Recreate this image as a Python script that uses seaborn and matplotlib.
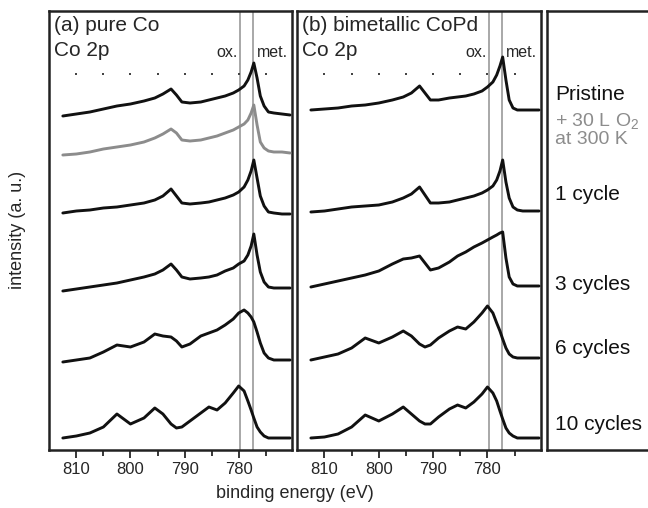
import numpy as np
import pandas as pd
import matplotlib
matplotlib.use("Agg")
import matplotlib.pyplot as plt
import seaborn as sns

# DATA (binding energy grid in eV, stacked intensities in a.u.)

energy = [812.5, 810, 807.5, 805, 802.5, 800, 797.5, 795.5, 794, 792.5,
          791.5, 790.5, 789, 787, 785.5, 784, 782.5, 781, 780, 779,
          778.3, 777.7, 777.2, 776.6, 776, 775.3, 774.5, 773.5, 772, 770.5]

# panel (a) pure Co
a_pristine = [334, 336, 338, 341, 344, 346, 349, 352, 356, 361, 355, 348, 347, 348, 350,
              352, 354, 357, 360, 364, 370, 378, 387, 372, 354, 344, 338, 337, 336, 335]
a_o2 = [295, 296, 298, 301, 303, 305, 308, 312, 316, 321, 317, 310, 309, 310, 312,
        314, 317, 320, 323, 326, 330, 337, 345, 325, 308, 302, 299, 298, 298, 297]
a_1cycle = [237, 239, 240, 242, 243, 245, 247, 250, 254, 261, 254, 247, 246, 247, 248,
            250, 252, 255, 258, 263, 270, 279, 290, 272, 254, 244, 238, 237, 236, 236]
a_3cycles = [159, 161, 163, 165, 167, 170, 173, 176, 180, 186, 180, 173, 171, 172, 173,
             175, 179, 182, 186, 189, 195, 204, 216, 195, 178, 168, 163, 162, 162, 162]
a_6cycles = [88, 90, 92, 98, 105, 103, 108, 116, 114, 113, 109, 103, 106, 114, 117,
             120, 125, 131, 137, 140, 137, 133, 128, 118, 107, 97, 92, 90, 90, 90]
a_10cycles = [12, 14, 17, 23, 36, 26, 32, 42, 36, 26, 22, 23, 29, 37, 43,
              40, 47, 57, 64, 59, 49, 40, 32, 23, 18, 14, 12, 12, 12, 12]

# panel (b) bimetallic CoPd
b_pristine = [340, 341, 342, 344, 345, 347, 350, 353, 357, 364, 357, 350, 350, 352, 353,
              354, 356, 359, 363, 368, 375, 384, 393, 370, 350, 342, 340, 340, 340, 340]
b_1cycle = [238, 239, 241, 243, 244, 245, 248, 252, 256, 263, 255, 247, 247, 248, 250,
            252, 254, 257, 260, 264, 270, 279, 290, 268, 252, 243, 240, 239, 239, 239]
b_3cycles = [163, 166, 169, 172, 175, 179, 186, 191, 192, 194, 187, 180, 182, 188, 194,
             198, 203, 207, 210, 213, 215, 217, 218, 192, 173, 166, 164, 164, 164, 164]
b_6cycles = [90, 93, 96, 102, 112, 107, 113, 119, 114, 106, 103, 105, 112, 119, 123,
             121, 128, 137, 144, 137, 127, 119, 111, 102, 96, 93, 92, 92, 92, 92]
b_10cycles = [12, 13, 16, 23, 35, 29, 36, 43, 36, 29, 26, 26, 33, 41, 45,
              42, 48, 56, 63, 57, 49, 39, 31, 22, 17, 14, 12, 12, 12, 12]

ox_energy = 779.7
met_energy = 777.3
dot_energies = [810, 805, 800, 795, 790, 785, 780, 775]

labels = ["Pristine", "+ 30 L $\\mathregular{O_2}$", "at 300 K", "1 cycle",
          "3 cycles", "6 cycles", "10 cycles"]
label_y = [355, 329, 310, 255, 165, 102, 25]
label_colors = ["#111111", "#8c8c8c", "#8c8c8c", "#111111", "#111111", "#111111", "#111111"]

# STYLE

sns.set_style("white")
plt.rcParams['font.family'] = ['Liberation Sans', 'DejaVu Sans']

fig = plt.figure(figsize=(6.48, 5.08), dpi=100)
bottom = 58 / 508
height = 439 / 508
ax_a = fig.add_axes([49.3 / 648, bottom, 242.4 / 648, height])
ax_b = fig.add_axes([297.3 / 648, bottom, 243.4 / 648, height])
ax_c = fig.add_axes([547 / 648, bottom, 0.2, height])

panels = [
    (ax_a, "(a) pure Co", [a_pristine, a_o2, a_1cycle, a_3cycles, a_6cycles, a_10cycles],
     ["#111111", "#8c8c8c", "#111111", "#111111", "#111111", "#111111"]),
    (ax_b, "(b) bimetallic CoPd", [b_pristine, b_1cycle, b_3cycles, b_6cycles, b_10cycles],
     ["#111111"] * 5),
]

for ax, title, traces, colors in panels:
    ax.axvline(ox_energy, color="#9a9a9a", lw=1.2, zorder=1)
    ax.axvline(met_energy, color="#9a9a9a", lw=1.2, zorder=1)
    for vals, col in zip(traces, colors):
        sns.lineplot(x=energy, y=vals, ax=ax, color=col, lw=2.1, zorder=3)
    ax.scatter(dot_energies, [376] * len(dot_energies), marker='s', s=0.7,
               color="#444444", linewidths=0, zorder=2)
    ax.set_xlim(815, 770.2)
    ax.set_ylim(0, 439)
    ax.set_xticks([810, 800, 790, 780])
    ax.set_xticks([805, 795, 785, 775], minor=True)
    ax.tick_params(axis='x', which='major', direction='out', length=6, width=1.3,
                   labelsize=12, pad=3, bottom=True)
    ax.tick_params(axis='x', which='minor', direction='out', length=4.5, width=1.3,
                   bottom=True)
    ax.set_yticks([])
    ax.set_xlabel("")
    ax.set_ylabel("")
    for s in ax.spines.values():
        s.set_color("#222222")
        s.set_linewidth(1.8)
    ax.text(0.018, 0.955, title, transform=ax.transAxes, fontsize=15, va='baseline')
    ax.text(0.018, 0.897, "Co 2p", transform=ax.transAxes, fontsize=15, va='baseline')
    ax.text(ox_energy + 0.5, 393, "ox.", fontsize=11.5, ha='right', va='baseline')
    ax.text(met_energy - 0.7, 393, "met.", fontsize=11.5, ha='left', va='baseline')

# label panel
ax_c.set_xlim(0, 1)
ax_c.set_ylim(0, 439)
ax_c.set_xticks([])
ax_c.set_yticks([])
for s in ax_c.spines.values():
    s.set_color("#222222")
    s.set_linewidth(1.8)
for txt, y, col in zip(labels, label_y, label_colors):
    fs = 14 if col != "#111111" else 15
    ax_c.text(0.065, y, txt, color=col, fontsize=fs, va='center', ha='left')

fig.text(18 / 648, 1 - 230 / 508, "intensity (a. u.)", rotation=90,
         fontsize=13, ha='center', va='center')
fig.text(295 / 648, 1 - 494 / 508, "binding energy (eV)", fontsize=13,
         ha='center', va='center')

plt.savefig("out.png", dpi=100)
plt.close()
